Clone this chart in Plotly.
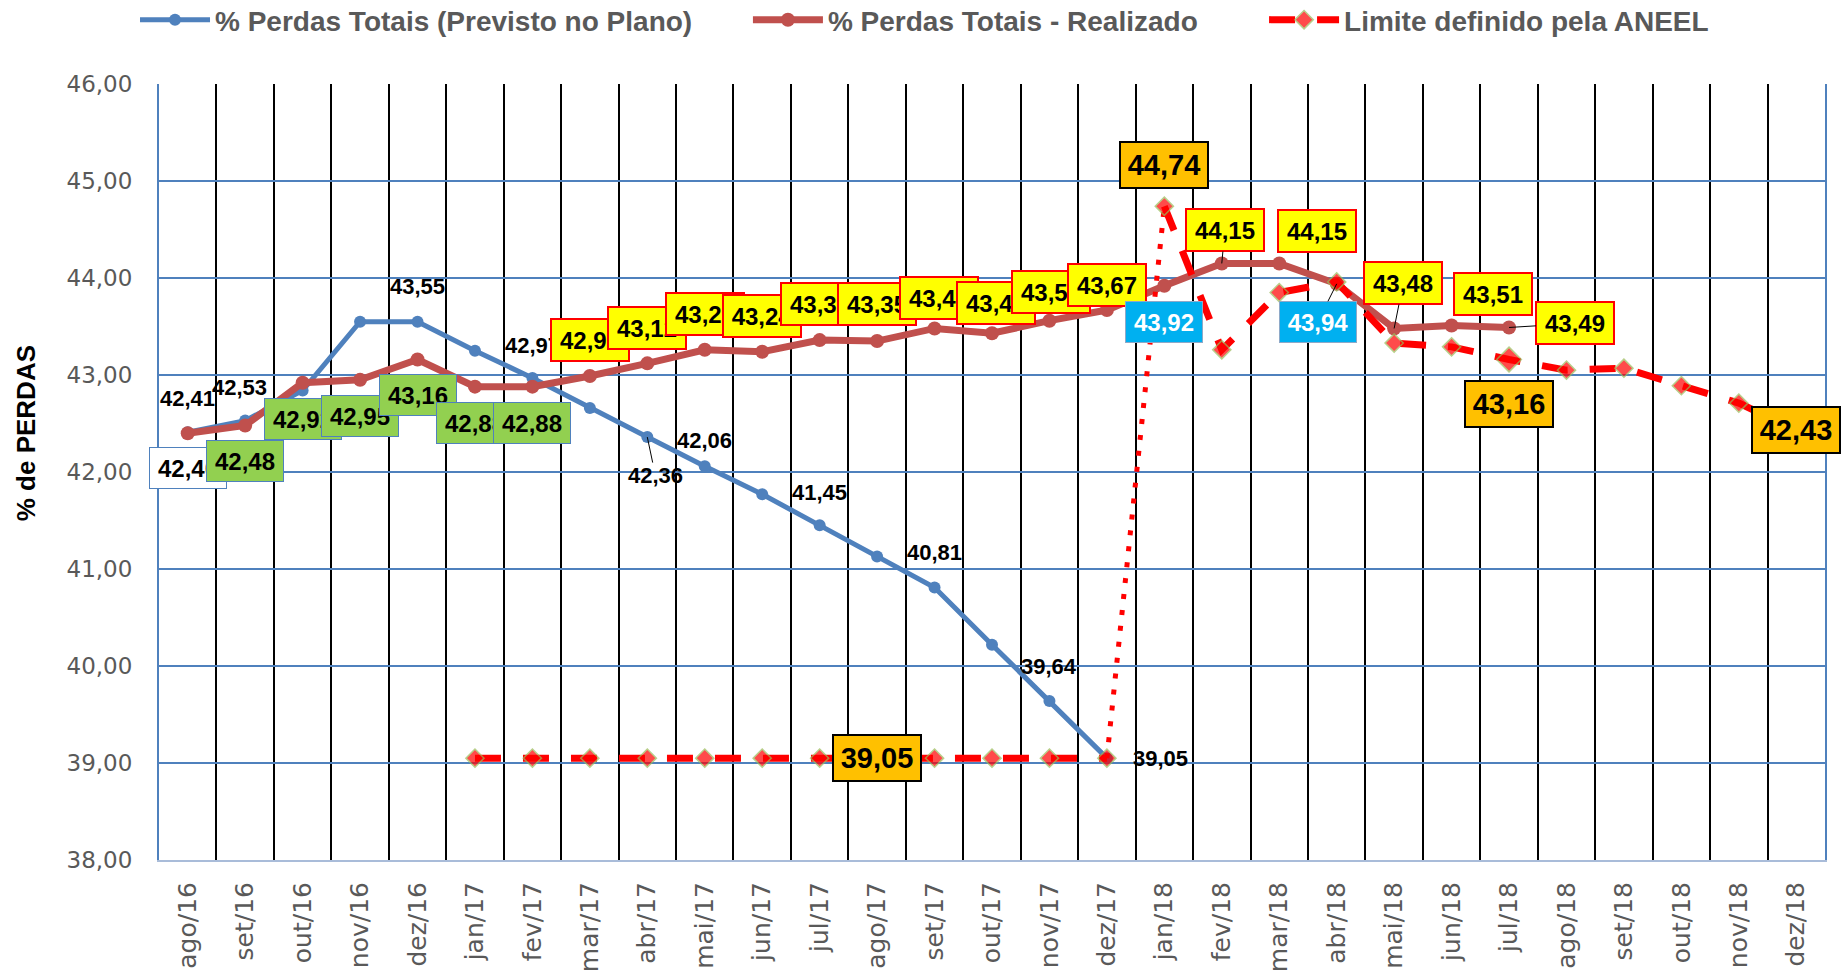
import plotly.graph_objects as go

# Categories (months) and series
meses = ['ago/16', 'set/16', 'out/16', 'nov/16', 'dez/16',
         'jan/17', 'fev/17', 'mar/17', 'abr/17', 'mai/17', 'jun/17',
         'jul/17', 'ago/17', 'set/17', 'out/17', 'nov/17', 'dez/17',
         'jan/18', 'fev/18', 'mar/18', 'abr/18', 'mai/18', 'jun/18',
         'jul/18', 'ago/18', 'set/18', 'out/18', 'nov/18', 'dez/18']

previsto = [42.41, 42.53, 42.84, 43.55, 43.55, 43.25, 42.97, 42.66, 42.36,
            42.06, 41.77, 41.45, 41.13, 40.81, 40.22, 39.64, 39.05,
            None, None, None, None, None, None, None, None, None, None, None, None]

realizado = [42.40, 42.48, 42.92, 42.95, 43.16, 42.88, 42.88, 42.99, 43.12,
             43.26, 43.24, 43.36, 43.35, 43.48, 43.43, 43.56, 43.67,
             43.92, 44.15, 44.15, 43.94, 43.48, 43.51, 43.49,
             None, None, None, None, None]

limite = [None, None, None, None, None,
          39.05, 39.05, 39.05, 39.05, 39.05, 39.05, 39.05, 39.05, 39.05, 39.05, 39.05, 39.05,
          44.74, 43.26, 43.85, 43.96, 43.33, 43.29, 43.16, 43.05, 43.07, 42.89, 42.71, 42.43]

BLUE = '#4F81BD'
RED = '#C0504D'
LIM = '#FF0000'
GRAY = '#595959'
LABEL_FONT = 'Liberation Sans, Arial, sans-serif'


def fmt(v):
    return f'{v:.2f}'.replace('.', ',')


fig = go.Figure()

fig.add_trace(go.Scatter(x=meses, y=previsto, mode='lines+markers',
                         name='% Perdas Totais (Previsto no Plano)',
                         legend='legend',
                         line=dict(color=BLUE, width=5),
                         marker=dict(color=BLUE, size=12)))

fig.add_trace(go.Scatter(x=meses, y=realizado, mode='lines+markers',
                         name='% Perdas Totais - Realizado',
                         legend='legend2',
                         line=dict(color=RED, width=7),
                         marker=dict(color=RED, size=14)))

# limit line: dashed for 2017 and 2018, dotted jump between dez/17 and jan/18
i_dez17 = meses.index('dez/17')
i_jan18 = meses.index('jan/18')
lim_2017 = [v if i <= i_dez17 else None for i, v in enumerate(limite)]
lim_2018 = [v if i >= i_jan18 else None for i, v in enumerate(limite)]
lim_jump = [v if i in (i_dez17, i_jan18) else None for i, v in enumerate(limite)]
lim_sizes = [19 if m == 'jul/18' else 14 for m in meses]

fig.add_trace(go.Scatter(x=meses, y=lim_jump, mode='lines', showlegend=False,
                         line=dict(color=LIM, width=5, dash='5px,11px'),
                         hoverinfo='skip'))
for k, serie in enumerate([lim_2017, lim_2018]):
    fig.add_trace(go.Scatter(x=meses, y=serie, mode='lines+markers',
                             name='Limite definido pela ANEEL',
                             legend='legend3',
                             legendgroup='lim', showlegend=(k == 0),
                             line=dict(color=LIM, width=7, dash='26px,22px'),
                             marker=dict(symbol='diamond', color=LIM, size=lim_sizes,
                                         line=dict(color='#9BBB59', width=1.5))))

annotations = []


def add_label(mes, val, dx, dy, bg=None, border=None, fcolor='black', size=24,
              w=66, h=30, bw=2, leader=False):
    annotations.append(dict(
        x=mes, y=val, xref='x', yref='y',
        text=f'<b>{fmt(val)}</b>',
        showarrow=True, ax=dx, ay=dy, axref='pixel', ayref='pixel',
        arrowhead=0, arrowwidth=1,
        arrowcolor='black' if leader else 'rgba(0,0,0,0)',
        font=dict(family=LABEL_FONT, size=size, color=fcolor),
        bgcolor=bg if bg else 'rgba(0,0,0,0)',
        bordercolor=border if border else 'rgba(0,0,0,0)',
        borderwidth=bw if border else 0,
        borderpad=5 if border else 0,
        width=w if border else None, height=h if border else None,
        align='center', valign='middle'))


# Previsto labels (plain text)
prev_lbl = {'ago/16': (0, -34), 'set/16': (-6, -33), 'dez/16': (0, -35),
            'fev/17': (0, -32), 'abr/17': (8, 38), 'mai/17': (0, -26),
            'jul/17': (0, -33), 'set/17': (0, -35), 'nov/17': (0, -34),
            'dez/17': (54, 0)}
for m, (dx, dy) in prev_lbl.items():
    add_label(m, previsto[meses.index(m)], dx, dy, size=22, leader=(m == 'abr/17'))

# Realizado labels (boxes)
WHITE = ('white', BLUE, 'black')
GREEN = ('#92D050', BLUE, 'black')
YELLOW = ('#FFFF00', '#FF0000', 'black')
CYAN = ('#00B0F0', '#8EA9C8', 'white')
real_lbl = [
    ('ago/16', 0, 35, WHITE, False), ('set/16', 0, 36, GREEN, False),
    ('out/16', 0, 36, GREEN, False), ('nov/16', 0, 36, GREEN, False),
    ('dez/16', 0, 36, GREEN, False), ('jan/17', 0, 36, GREEN, False),
    ('fev/17', 0, 36, GREEN, False), ('mar/17', 0, -36, YELLOW, False),
    ('abr/17', 0, -35, YELLOW, False), ('mai/17', 0, -36, YELLOW, False),
    ('jun/17', 0, -36, YELLOW, False), ('jul/17', 0, -36, YELLOW, False),
    ('ago/17', 0, -37, YELLOW, False), ('set/17', 4, -30, YELLOW, False),
    ('out/17', 4, -30, YELLOW, False), ('nov/17', 2, -29, YELLOW, False),
    ('dez/17', 0, -25, YELLOW, False), ('jan/18', 0, 36, CYAN, False),
    ('fev/18', 3, -33, YELLOW, True), ('mar/18', 38, -32, YELLOW, False),
    ('abr/18', -19, 38, CYAN, True), ('mai/18', 9, -45, YELLOW, True),
    ('jun/18', 41, -32, YELLOW, False), ('jul/18', 66, -4, YELLOW, True),
]
for m, dx, dy, (bg, bc, fc), leader in real_lbl:
    add_label(m, realizado[meses.index(m)], dx, dy, bg=bg, border=bc, fcolor=fc,
              bw=1 if bc in (BLUE, '#8EA9C8') else 2, leader=leader)

# Limit labels (orange boxes)
lim_lbl = {'ago/17': (0, 0), 'jan/18': (0, -41), 'jul/18': (0, 45), 'dez/18': (0, 0)}
for m, (dx, dy) in lim_lbl.items():
    add_label(m, limite[meses.index(m)], dx, dy, bg='#FFC000', border='black',
              size=29, w=76, h=34)

# y-axis title
annotations.append(dict(x=-0.0798, y=0.55, xref='paper', yref='paper',
                        xanchor='center', yanchor='middle',
                        text='<b>% de PERDAS</b>', textangle=-90, showarrow=False,
                        font=dict(family=LABEL_FONT, size=26, color='black')))

legend_style = dict(orientation='h', xanchor='left', y=1.0825, yanchor='middle',
                    font=dict(family=LABEL_FONT, size=28, color=GRAY, weight='bold'),
                    itemwidth=70, bgcolor='rgba(0,0,0,0)')

fig.update_layout(
    width=1847, height=974,
    margin=dict(l=159, r=22, t=84, b=114, autoexpand=False),
    paper_bgcolor='white', plot_bgcolor='white',
    separators=',.',
    showlegend=True,
    legend=dict(x=-0.0144, **legend_style),
    legend2=dict(x=0.3535, **legend_style),
    legend3=dict(x=0.6633, **legend_style),
    annotations=annotations,
    xaxis=dict(type='category', range=[-0.5, len(meses) - 0.5],
               tickson='boundaries', showgrid=True,
               gridcolor='black', gridwidth=2, tickangle=-90, ticks='',
               tickfont=dict(family='DejaVu Sans', size=25, color=GRAY),
               ticklabelstandoff=10, showline=True, linecolor='#A9BCD9',
               linewidth=2, automargin=False, fixedrange=True),
    yaxis=dict(range=[38, 46], dtick=1, tickformat='.2f', showgrid=True,
               gridcolor=BLUE, gridwidth=1.5, showline=True, linecolor=BLUE,
               linewidth=2, mirror=True, ticks='', zeroline=False,
               tickfont=dict(family='DejaVu Sans', size=23, color=GRAY),
               ticklabelstandoff=20, automargin=False, fixedrange=True),
)

fig.write_html('out.html', config={'displayModeBar': False},
               post_script="document.body.style.margin='0';")
